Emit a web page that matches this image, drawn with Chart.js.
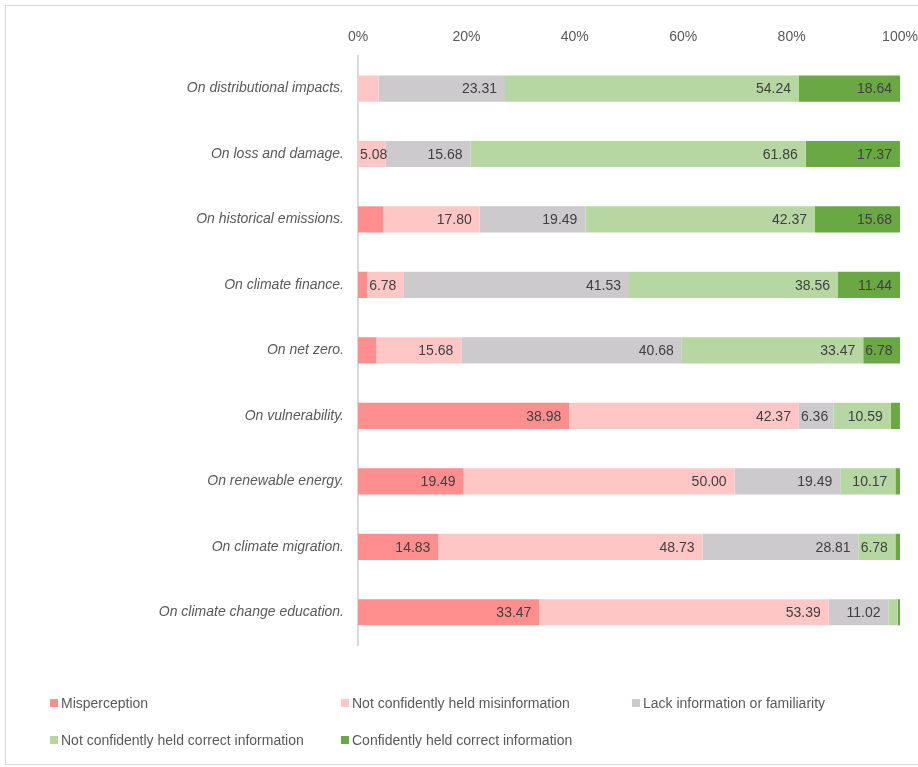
<!DOCTYPE html>
<html>
<head>
<meta charset="utf-8">
<script src="https://cdn.jsdelivr.net/npm/chart.js@4.4.1/dist/chart.umd.min.js"></script>
<style>
  html, body { margin: 0; padding: 0; background: #ffffff; }
  #wrap { position: relative; width: 918px; height: 767px; overflow: hidden; }
  #frame { position: absolute; left: 5px; top: 5px; width: 930px; height: 760px; border: 1px solid #d9d9d9; pointer-events: none; box-sizing: border-box; }
  canvas { position: absolute; left: 0; top: 0; }
  .lg { position: absolute; font-family: "Liberation Sans", Arial, sans-serif; font-size: 14px; color: #595959; white-space: nowrap; line-height: 16px; }
  .lg span.box { display: inline-block; width: 8px; height: 8px; margin-right: 3px; vertical-align: 1px; }
</style>
</head>
<body>
<div id="wrap">
  <canvas id="c" width="918" height="767"></canvas>
  <div id="frame"></div>
  <div id="legend"></div>
</div>
<script>
const categories = ["On distributional impacts.", "On loss and damage.", "On historical emissions.", "On climate finance.", "On net zero.", "On vulnerability.", "On renewable energy.", "On climate migration.", "On climate change education."];
const seriesNames = ["Misperception", "Not confidently held misinformation", "Lack information or familiarity", "Not confidently held correct information", "Confidently held correct information"];
const misperception = [0, 0, 4.66, 1.69, 3.39, 38.98, 19.49, 14.83, 33.47];
const notConfidentMisinfo = [3.81, 5.08, 17.80, 6.78, 15.68, 42.37, 50.00, 48.73, 53.39];
const lackInformation = [23.31, 15.68, 19.49, 41.53, 40.68, 6.36, 19.49, 28.81, 11.02];
const notConfidentCorrect = [54.24, 61.86, 42.37, 38.56, 33.47, 10.59, 10.17, 6.78, 1.69];
const confidentCorrect = [18.64, 17.37, 15.68, 11.44, 6.78, 1.69, 0.85, 0.85, 0.43];
const tickValues = [0, 20, 40, 60, 80, 100];

const colors = ["#ff8f8f", "#ffc6c6", "#cccacc", "#b6d7a1", "#6aa843"];
const seriesData = [misperception, notConfidentMisinfo, lackInformation, notConfidentCorrect, confidentCorrect];
const FONT = '"Liberation Sans", Arial, sans-serif';

const dataLabels = {
  id: 'dataLabels',
  afterDatasetsDraw(chart) {
    const ctx = chart.ctx;
    ctx.save();
    ctx.font = '14px ' + FONT;
    ctx.fillStyle = '#404040';
    ctx.textAlign = 'right';
    ctx.textBaseline = 'middle';
    chart.data.datasets.forEach((ds, di) => {
      const meta = chart.getDatasetMeta(di);
      meta.data.forEach((el, i) => {
        const v = ds.data[i];
        if (v >= 5) {
          const t = v.toFixed(2);
          const w = ctx.measureText(t).width;
          const right = Math.max(el.x - 8, el.base + 2 + w);
          ctx.fillText(t, right, el.y + 1);
        }
      });
    });
    ctx.restore();
  }
};

new Chart(document.getElementById('c'), {
  type: 'bar',
  data: {
    labels: categories,
    datasets: seriesNames.map((n, i) => ({
      label: n,
      data: seriesData[i],
      backgroundColor: colors[i],
      borderWidth: 0,
      barPercentage: 0.5,
      categoryPercentage: 0.8
    }))
  },
  options: {
    indexAxis: 'y',
    responsive: false,
    animation: false,
    layout: { padding: { top: 19, right: 18, bottom: 122, left: 0 } },
    plugins: { legend: { display: false }, tooltip: { enabled: false } },
    scales: {
      x: {
        position: 'top',
        stacked: true,
        min: 0, max: 100,
        afterBuildTicks(scale) { scale.ticks = tickValues.map(v => ({ value: v })); },
        afterFit(scale) { scale.paddingLeft = 0; scale.paddingRight = 0; scale.paddingTop = 0; scale.paddingBottom = 0; },
        ticks: { padding: 10, color: '#595959', font: { family: FONT, size: 14 }, callback: v => v + '%', maxRotation: 0 },
        grid: { display: false, drawTicks: false },
        border: { display: false }
      },
      y: {
        stacked: true,
        afterFit(scale) { scale.width = 358; scale.paddingTop = 0; scale.paddingBottom = 0; scale.paddingLeft = 0; scale.paddingRight = 0; },
        ticks: { padding: 14, color: '#595959', font: { family: FONT, size: 14, style: 'italic' } },
        grid: { display: false, drawTicks: false },
        border: { display: true, color: '#d9d9d9', width: 2 }
      }
    }
  },
  plugins: [dataLabels]
});

const legendPos = [[50, 695], [341, 695], [632, 695], [50, 732], [341, 732]];
const lg = document.getElementById('legend');
seriesNames.forEach((n, i) => {
  const d = document.createElement('div');
  d.className = 'lg';
  d.style.left = legendPos[i][0] + 'px';
  d.style.top = legendPos[i][1] + 'px';
  d.innerHTML = '<span class="box" style="background:' + colors[i] + '"></span>' + n;
  lg.appendChild(d);
});
</script>
</body>
</html>
